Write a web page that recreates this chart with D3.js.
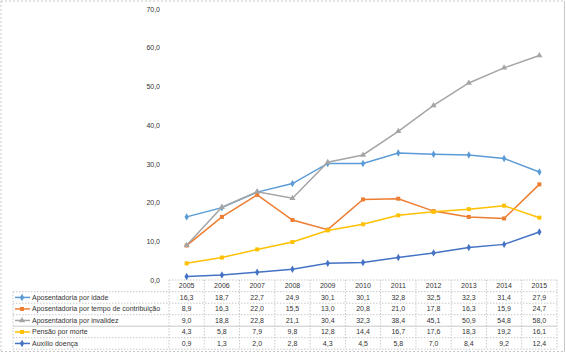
<!DOCTYPE html>
<html>
<head>
<meta charset="utf-8">
<script src="https://cdn.jsdelivr.net/npm/d3@7"></script>
<style>
  body { margin: 0; background: #fff; }
  svg { display: block; font-family: "Liberation Sans", Arial, sans-serif; }
</style>
</head>
<body>
<div id="chart"></div>
<script>
// Data
const YEARS = ["2005", "2006", "2007", "2008", "2009", "2010", "2011", "2012", "2013", "2014", "2015"];
const SERIES_NAMES = [
  "Aposentadoria por idade",
  "Aposentadoria por tempo de contribuição",
  "Aposentadoria por invalidez",
  "Pensão por morte",
  "Auxílio doença"
];
const IDADE = [16.3, 18.7, 22.7, 24.9, 30.1, 30.1, 32.8, 32.5, 32.3, 31.4, 27.9];
const TEMPO = [8.9, 16.3, 22.0, 15.5, 13.0, 20.8, 21.0, 17.8, 16.3, 15.9, 24.7];
const INVALIDEZ = [9.0, 18.8, 22.8, 21.1, 30.4, 32.3, 38.4, 45.1, 50.9, 54.8, 58.0];
const PENSAO = [4.3, 5.8, 7.9, 9.8, 12.8, 14.4, 16.7, 17.6, 18.3, 19.2, 16.1];
const AUXILIO = [0.9, 1.3, 2.0, 2.8, 4.3, 4.5, 5.8, 7.0, 8.4, 9.2, 12.4];
const Y_TICKS = [0, 10, 20, 30, 40, 50, 60, 70];

const COLORS = ["#5b9bd5", "#ed7d31", "#a5a5a5", "#ffc000", "#4472c4"];
const SYMBOLS = [d3.symbolDiamond, d3.symbolSquare, d3.symbolTriangle, d3.symbolSquare, d3.symbolDiamond];
const seriesData = [IDADE, TEMPO, INVALIDEZ, PENSAO, AUXILIO];

const W = 566, H = 354;
const plotLeft = 169, plotRight = 557;
const tableTop = 280, headerH = 11.7, rowH = 11.5;
const tableLeft = 13;
const TEXT_COLOR = "#333";

const svg = d3.select("#chart").append("svg")
  .attr("width", W)
  .attr("height", H);

// outer frame
const frame = svg.append("g").attr("fill", "none").attr("stroke", "#c8c8c8");
frame.append("line").attr("x1", 1).attr("x2", 565).attr("y1", 1).attr("y2", 1).attr("stroke-dasharray", "2,2");
frame.append("line").attr("x1", 1).attr("x2", 1).attr("y1", 1).attr("y2", 352).attr("stroke-dasharray", "2,2");
frame.append("line").attr("x1", 1).attr("x2", 565).attr("y1", 351.5).attr("y2", 351.5).attr("stroke-dasharray", "2,2");
frame.append("line").attr("x1", 564.5).attr("x2", 564.5).attr("y1", 1).attr("y2", 352);

const x = d3.scaleBand().domain(YEARS).range([plotLeft, plotRight]);
const y = d3.scaleLinear().domain([0, 70]).range([280, 9]);

// y axis labels only
const yAxis = svg.append("g")
  .attr("transform", `translate(${plotLeft - 6},0)`)
  .call(d3.axisLeft(y).tickValues(Y_TICKS).tickSize(0).tickFormat(d => d3.format(".1f")(d).replace(".", ",")));
yAxis.select(".domain").remove();
yAxis.selectAll("text")
  .attr("font-size", 7)
  .attr("font-family", "Liberation Sans, Arial, sans-serif")
  .attr("fill", TEXT_COLOR);

// table grid
const nRows = SERIES_NAMES.length;
const tableBottom = tableTop + headerH + rowH * nRows;
const grid = svg.append("g").attr("stroke", "#c8c8c8").attr("fill", "none");
// vertical lines at category boundaries
YEARS.forEach((yr, i) => {
  grid.append("line")
    .attr("x1", x(yr)).attr("x2", x(yr))
    .attr("y1", tableTop).attr("y2", tableBottom)
    .attr("stroke-dasharray", "1.5,1.5");
});
grid.append("line").attr("x1", plotRight).attr("x2", plotRight)
  .attr("y1", tableTop).attr("y2", tableBottom).attr("stroke-dasharray", "1.5,1.5");
grid.append("line").attr("x1", tableLeft).attr("x2", tableLeft)
  .attr("y1", tableTop + headerH).attr("y2", tableBottom).attr("stroke-dasharray", "1.5,1.5");
// horizontal lines
grid.append("line").attr("x1", plotLeft).attr("x2", plotRight)
  .attr("y1", tableTop).attr("y2", tableTop).attr("stroke-dasharray", "1.5,1.5");
for (let r = 0; r <= nRows; r++) {
  const yy = tableTop + headerH + r * rowH;
  grid.append("line").attr("x1", tableLeft).attr("x2", plotRight)
    .attr("y1", yy).attr("y2", yy)
    .attr("stroke-dasharray", r === 3 ? null : "1.5,1.5");
}

// year header
svg.append("g").selectAll("text")
  .data(YEARS)
  .join("text")
  .attr("x", d => x(d) + x.bandwidth() / 2)
  .attr("y", tableTop + headerH / 2)
  .attr("dy", "0.35em")
  .attr("text-anchor", "middle")
  .attr("font-size", 7)
  .attr("fill", TEXT_COLOR)
  .text(d => d);

// lines and markers
const line = d3.line()
  .x((d, i) => x(YEARS[i]) + x.bandwidth() / 2)
  .y(d => y(d));

seriesData.forEach((vals, s) => {
  const g = svg.append("g");
  g.append("path")
    .datum(vals)
    .attr("d", line)
    .attr("fill", "none")
    .attr("stroke", COLORS[s])
    .attr("stroke-width", 1.5);
  g.selectAll("path.pt")
    .data(vals)
    .join("path")
    .attr("class", "pt")
    .attr("transform", (d, i) => `translate(${x(YEARS[i]) + x.bandwidth() / 2},${y(d)})`)
    .attr("d", d3.symbol().type(SYMBOLS[s]).size(16))
    .attr("fill", COLORS[s]);

  // table row
  const rowY = tableTop + headerH + s * rowH + rowH / 2;
  const key = svg.append("g").attr("transform", `translate(0,${rowY})`);
  key.append("line").attr("x1", tableLeft + 2).attr("x2", 30)
    .attr("stroke", COLORS[s]).attr("stroke-width", 1.5);
  key.append("path")
    .attr("transform", "translate(22,0)")
    .attr("d", d3.symbol().type(SYMBOLS[s]).size(16))
    .attr("fill", COLORS[s]);
  key.append("text")
    .attr("x", 32)
    .attr("dy", "0.35em")
    .attr("font-size", 7)
    .attr("fill", TEXT_COLOR)
    .text(SERIES_NAMES[s]);

  svg.append("g").selectAll("text")
    .data(vals)
    .join("text")
    .attr("x", (d, i) => x(YEARS[i]) + x.bandwidth() / 2)
    .attr("y", rowY)
    .attr("dy", "0.35em")
    .attr("text-anchor", "middle")
    .attr("font-size", 7)
    .attr("fill", TEXT_COLOR)
    .text(d => d3.format(".1f")(d).replace(".", ","));
});
</script>
</body>
</html>
